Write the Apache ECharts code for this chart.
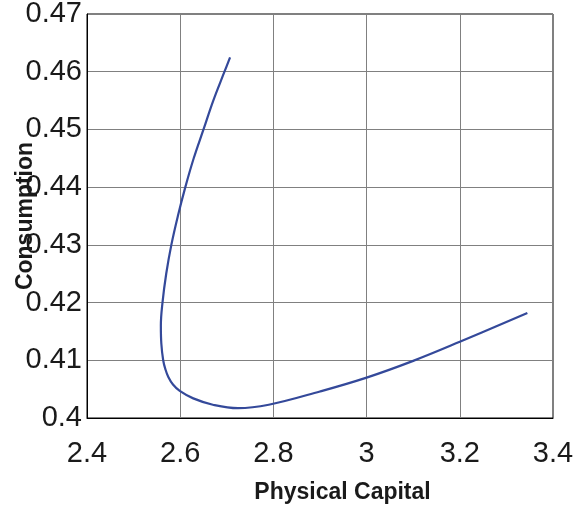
<!DOCTYPE html>
<html>
<head>
<meta charset="utf-8">
<script src="https://cdn.jsdelivr.net/npm/echarts@6/dist/echarts.min.js"></script>
<style>
  html, body { margin: 0; padding: 0; background: #fff; }
  #chart { width: 574px; height: 513px; }
</style>
</head>
<body>
<div id="chart"></div>
<script>
// values
var physicalCapital = [2.707, 2.695, 2.671, 2.650, 2.629, 2.611, 2.595, 2.581, 2.570, 2.562,
  2.5585, 2.5595, 2.5635, 2.568, 2.5745, 2.5845, 2.599, 2.628, 2.670, 2.724, 2.790,
  2.900, 3.000, 3.100, 3.200, 3.345];
var consumption = [0.4625, 0.460, 0.455, 0.450, 0.445, 0.440, 0.435, 0.430, 0.425, 0.420,
  0.416, 0.4129, 0.410, 0.4085, 0.4071, 0.4058, 0.4047, 0.4034, 0.4023, 0.4017, 0.4023,
  0.4046, 0.4070, 0.4099, 0.4132, 0.4182];

var xTicks = ['2.4', '2.6', '2.8', '3', '3.2', '3.4'];
var yTicks = ['0.4', '0.41', '0.42', '0.43', '0.44', '0.45', '0.46', '0.47'];

var chart = echarts.init(document.getElementById('chart'));

var pts = physicalCapital.map(function (k, i) { return [k, consumption[i]]; });

var labelFont = { fontFamily: 'Liberation Sans', fontSize: 29, color: '#1a1a1a' };

var option = {
  animation: false,
  grid: {
    left: 87, top: 14, width: 466, height: 404,
    outerBoundsMode: 'none',
    containLabel: false,
    show: true, borderColor: '#000', borderWidth: 1
  },
  xAxis: {
    type: 'value',
    min: 2.4, max: 3.4, interval: 0.2,
    name: 'Physical Capital',
    nameLocation: 'middle',
    nameGap: 63,
    nameMoveOverlap: false,
    nameTextStyle: { fontFamily: 'Liberation Sans', fontSize: 23, fontWeight: 'bold', color: '#1a1a1a', padding: [0, 0, 0, 45] },
    axisLine: { show: true, lineStyle: { color: '#000' } },
    axisTick: { show: false },
    splitLine: { show: true, lineStyle: { color: '#808080', width: 1 } },
    axisLabel: Object.assign({ margin: 21, formatter: function (v) {
      var i = Math.round((v - 2.4) / 0.2); return xTicks[i];
    } }, labelFont)
  },
  yAxis: {
    type: 'value',
    min: 0.4, max: 0.47, interval: 0.01,
    name: 'Consumption',
    nameLocation: 'middle',
    nameGap: 50,
    nameMoveOverlap: false,
    nameTextStyle: { fontFamily: 'Liberation Sans', fontSize: 23, fontWeight: 'bold', color: '#1a1a1a' },
    axisLine: { show: true, lineStyle: { color: '#000' } },
    axisTick: { show: false },
    splitLine: { show: true, lineStyle: { color: '#808080', width: 1 } },
    axisLabel: Object.assign({ margin: 5, formatter: function (v) {
      var i = Math.round((v - 0.4) / 0.01); return yTicks[i];
    } }, labelFont)
  },
  series: [{
    type: 'line',
    data: pts,
    smooth: 0.4,
    showSymbol: false,
    lineStyle: { color: '#34499a', width: 2.2 }
  }]
};
chart.setOption(option);
</script>
</body>
</html>
